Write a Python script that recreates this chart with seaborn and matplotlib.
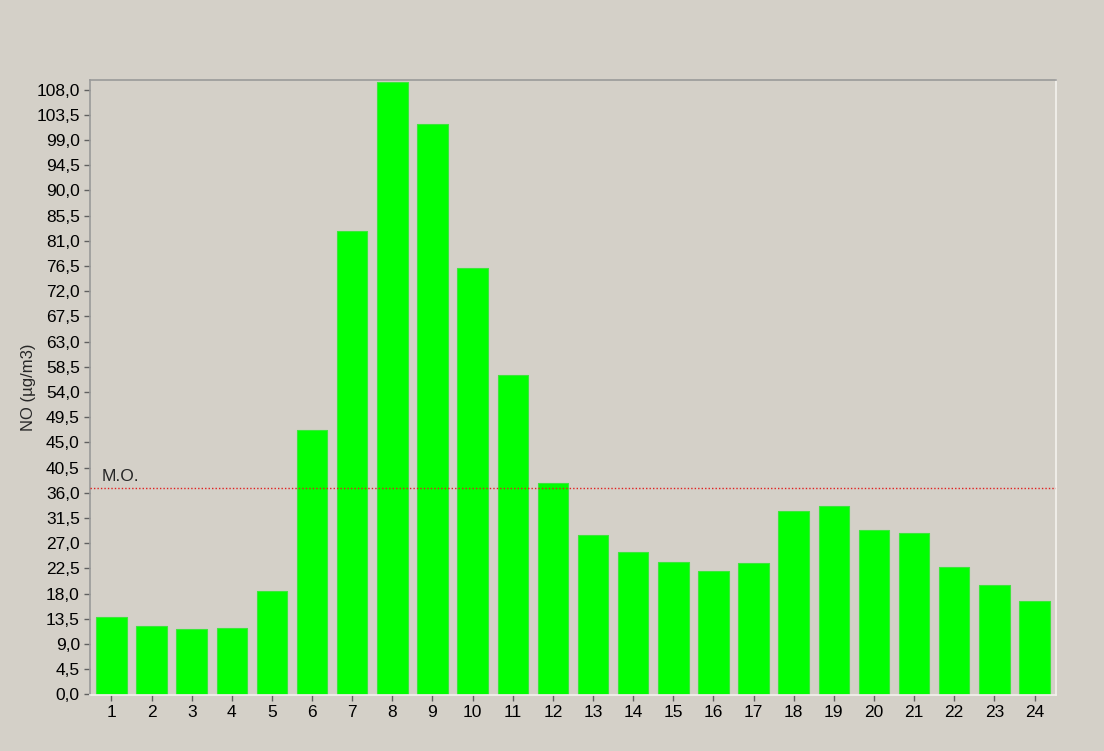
import matplotlib
matplotlib.use("Agg")
from matplotlib import pyplot as plt
import seaborn as sns
import numpy as np
import pandas as pd

# hourly NO concentrations
hours = [str(h) for h in range(1, 25)]
no_values = [13.8, 12.2, 11.6, 11.9, 18.5, 47.2, 82.8, 109.3, 101.8, 76.1, 57.1, 37.8,
             28.4, 25.5, 23.7, 22.1, 23.4, 32.8, 33.7, 29.4, 28.8, 22.7, 19.5, 16.7]
mo_value = 36.9
y_ticks = np.arange(0, 108.1, 4.5)

df = pd.DataFrame({"hora": hours, "no": no_values})

# Background setting
bg = "#D4D0C8"
sns.set_style("white", {"axes.facecolor": bg, "figure.facecolor": bg})
plt.rcParams["font.family"] = ["Liberation Sans", "DejaVu Sans"]

fig = plt.figure(figsize=(11.04, 7.51), dpi=100, facecolor=bg)
ax = fig.add_axes([0.0811, 0.0746, 0.8754, 0.8189])

sns.barplot(data=df, x="hora", y="no", color="#00FF00", saturation=1, width=0.76,
            edgecolor="#3CE63C", linewidth=0.8, ax=ax)

# mean line (M.O.)
ax.axhline(mo_value, color="#E02020", linestyle=(0, (1, 1.5)), linewidth=1.0, zorder=3)
ax.annotate("M.O.", xy=(0.013, mo_value), xycoords=("axes fraction", "data"),
            xytext=(0, 3), textcoords="offset points", fontsize=12.5, va="bottom", ha="left")

ax.set_xlim(-0.545, 23.535)
ax.set_ylim(-0.1, 109.7)
ax.set_yticks(y_ticks)
ax.set_yticklabels([f"{v:.1f}".replace(".", ",") for v in y_ticks])
ax.set_xlabel("")
ax.set_ylabel("NO (µg/m3)", fontsize=12, labelpad=0)

ax.tick_params(axis="both", which="both", length=4, width=1, color="#606060",
               labelsize=12.5, labelcolor="black", pad=3, left=True, bottom=True)

# sunken panel look
ax.spines["left"].set_color("#9A9A9A")
ax.spines["top"].set_color("#9A9A9A")
ax.spines["right"].set_color("#F4F2EE")
ax.spines["bottom"].set_color("#F4F2EE")
for s in ax.spines.values():
    s.set_linewidth(1.2)

fig.savefig("out.png", dpi=100, facecolor=bg)
